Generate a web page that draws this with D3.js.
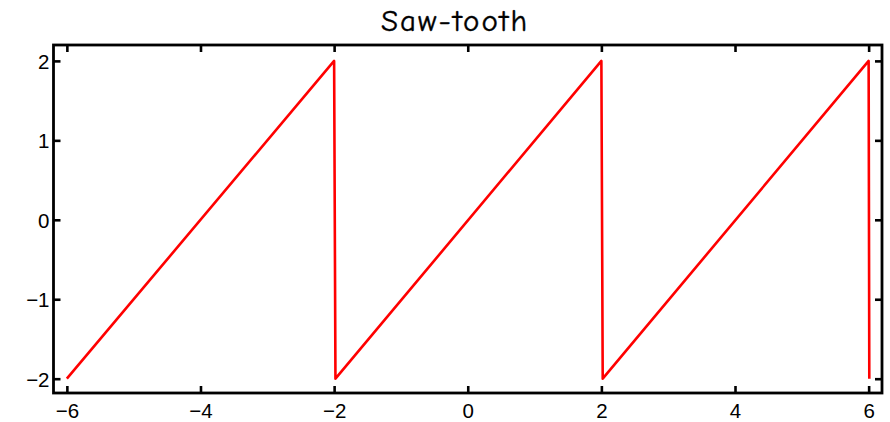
<!DOCTYPE html>
<html>
<head>
<meta charset="utf-8">
<script src="https://cdn.jsdelivr.net/npm/d3@7"></script>
<style>
  html, body { margin: 0; padding: 0; background: #fff; }
  svg { display: block; }
</style>
</head>
<body>
<svg id="chart" width="890" height="422"></svg>
<script>
// Saw-tooth wave: ramps from -2 to 2 over each period of 4, then drops back.
const xValues = [-6, -2, -1.98, 2, 2.02, 6, 6.01];
const yValues = [-2, 2, -2, 2, -2, 2, -2];
const xTicks = [-6, -4, -2, 0, 2, 4, 6];
const yTicks = [-2, -1, 0, 1, 2];
const titleText = "Saw-tooth";

const svg = d3.select("#chart");
const plotLeft = 53.5, plotRight = 882, plotTop = 45, plotBottom = 393;

const x = d3.scaleLinear().domain([-6.2, 6.2]).range([plotLeft, plotRight]);
const y = d3.scaleLinear().domain([-2.18, 2.2]).range([plotBottom, plotTop]);

const tickFont = "'Liberation Sans', Arial, sans-serif";
const tickLen = 7;

// Line
const points = xValues.map((v, i) => [v, yValues[i]]);
svg.append("path")
  .datum(points)
  .attr("fill", "none")
  .attr("stroke", "#ff0000")
  .attr("stroke-width", 2.6)
  .attr("stroke-linejoin", "round")
  .attr("d", d3.line().x(d => x(d[0])).y(d => y(d[1])));

// Axes with inward ticks on all four sides
const fmt = d3.format("d");
const axes = [
  { g: d3.axisBottom(x).tickValues(xTicks).tickFormat(fmt), tr: `translate(0,${plotBottom})` },
  { g: d3.axisTop(x).tickValues(xTicks).tickFormat(""), tr: `translate(0,${plotTop})` },
  { g: d3.axisLeft(y).tickValues(yTicks).tickFormat(fmt), tr: `translate(${plotLeft},0)` },
  { g: d3.axisRight(y).tickValues(yTicks).tickFormat(""), tr: `translate(${plotRight},0)` }
];
axes.forEach((a, i) => {
  const g = svg.append("g").attr("transform", a.tr)
    .call(a.g.tickSizeInner(-tickLen).tickSizeOuter(0).tickPadding(0));
  g.select(".domain").remove();
  g.selectAll(".tick line").attr("stroke", "#000").attr("stroke-width", 2.6);
  g.selectAll(".tick text")
    .attr("font-family", tickFont)
    .attr("font-size", "20.5px")
    .attr("fill", "#000");
  if (i === 0) g.selectAll(".tick text").attr("y", 10).attr("dy", "0.71em");
  if (i === 2) g.selectAll(".tick text").attr("x", -4).attr("dy", "0.36em");
});

// Frame
svg.append("rect")
  .attr("x", plotLeft).attr("y", plotTop)
  .attr("width", plotRight - plotLeft).attr("height", plotBottom - plotTop)
  .attr("fill", "none")
  .attr("stroke", "#000")
  .attr("stroke-width", 2.8);

// Title
svg.append("text")
  .attr("x", 455).attr("y", 31)
  .attr("text-anchor", "middle")
  .attr("font-family", "'Comic Sans MS', 'Comic Neue', 'DejaVu Sans', sans-serif")
  .attr("font-size", "31px")
  .attr("letter-spacing", "2px")
  .attr("fill", "#000")
  .attr("stroke", "#000")
  .attr("stroke-width", 0.4)
  .text(titleText);
</script>
</body>
</html>
